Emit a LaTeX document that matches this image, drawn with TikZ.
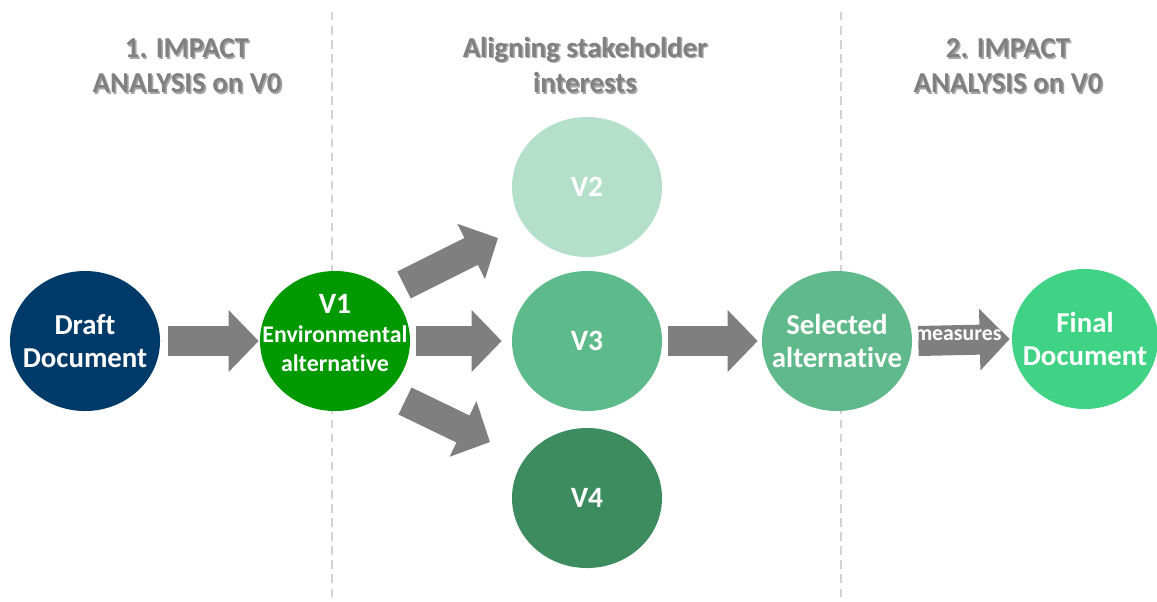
\documentclass[tikz,border=0pt]{standalone}
\usepackage{fontspec}
\setmainfont{Carlito}[Ligatures=NoCommon]
\usetikzlibrary{shapes.geometric,arrows.meta,calc}
\definecolor{arrowgray}{HTML}{7F7F7F}
\definecolor{titlegray}{HTML}{808080}
\definecolor{dashgray}{HTML}{D3D3D3}
\definecolor{draftc}{HTML}{003A68}
\definecolor{vonec}{HTML}{009900}
\definecolor{vtwoc}{HTML}{B4DFCA}
\definecolor{vthreec}{HTML}{5DBB8B}
\definecolor{vfourc}{HTML}{3C8C60}
\definecolor{selc}{HTML}{60B98B}
\definecolor{finalc}{HTML}{40D386}
\begin{document}
\begin{tikzpicture}[x=0.025cm,y=-0.025cm,
  bubble/.style={ellipse,minimum width=3.75cm,minimum height=3.5cm,inner sep=-40pt,
    text=white,font=\bfseries\fontsize{20.5}{24}\selectfont,align=center},
  blk/.style={draw=arrowgray,line width=0.75cm,-{Triangle[width=1.5cm,length=0.75cm]}},
  title/.style={text=titlegray,font=\bfseries\fontsize{20.5}{25}\selectfont,align=center},
  tshadow/.style={text=black,opacity=0.35,font=\bfseries\fontsize{20.5}{25}\selectfont,align=center},
  divider/.style={draw=dashgray,line width=1pt,dash pattern=on 6pt off 4pt}]
\useasboundingbox (0,0) rectangle (1157,601);
% dividers
\coordinate (d1top) at (332,12);
\coordinate (d1bot) at (332,600);
\coordinate (d2top) at (841,12);
\coordinate (d2bot) at (841,600);
\draw[divider] (d1top) -- (d1bot);
\draw[divider] (d2top) -- (d2bot);
% titles
\node[tshadow] (t1s) at (188.5,67.5) {1. IMPACT\\ANALYSIS on V0};
\node[title] (t1) at (187,66) {1. IMPACT\\ANALYSIS on V0};
\node[tshadow] (t2s) at (586.5,66.5) {Aligning stakeholder\\interests};
\node[title] (t2) at (585,65) {Aligning stakeholder\\interests};
\node[tshadow] (t3s) at (1009.5,67.5) {2. IMPACT\\ANALYSIS on V0};
\node[title] (t3) at (1008,66) {2. IMPACT\\ANALYSIS on V0};
% circles
\node[bubble,fill=draftc] (draft) at (85,341) {Draft\\Document};
\node[bubble,fill=vonec] (v1) at (335,341) {};
\node[text=white,font=\bfseries\fontsize{17}{20.5}\selectfont,align=center,inner sep=0pt] (v1txt) at ($(v1.center)+(0,-8)$)
  {{\fontsize{21}{24}\selectfont V1}\\Environmental\\alternative};
\node[bubble,fill=vtwoc,font=\bfseries\fontsize{21}{24}\selectfont] (v2) at (587,187) {V2};
\node[bubble,fill=vthreec,font=\bfseries\fontsize{21}{24}\selectfont] (v3) at (587,341) {V3};
\node[bubble,fill=vfourc,font=\bfseries\fontsize{21}{24}\selectfont] (v4) at (587,498) {V4};
\node[bubble,fill=selc] (sel) at (837,341) {Selected\\alternative};
\node[bubble,fill=finalc,minimum width=3.65cm] (final) at (1085,339) {Final\\Document};
% arrows
\draw[blk] ($(draft.east)+(8,0)$) -- ($(v1.west)+(-1,0)$);
\draw[blk] ($(v1.east)+(6,0)$) -- ($(v3.west)+(-10,0)$);
\draw[blk] ($(v1.center)+(69,-56)$) -- ($(v2.center)+(-89,51)$);
\draw[blk] ($(v1.center)+(70,60)$) -- ($(v4.center)+(-97,-56)$);
\draw[blk] ($(v3.east)+(6,0)$) -- ($(sel.west)+(-4,0)$);
\draw[blk] ($(sel.east)+(6,0)$) -- ($(final.west)+(-2,0)$);
\node[text=white,font=\bfseries\fontsize{15.5}{17}\selectfont,inner sep=0pt] (meas) at (958,335) {measures};
\end{tikzpicture}
\end{document}
